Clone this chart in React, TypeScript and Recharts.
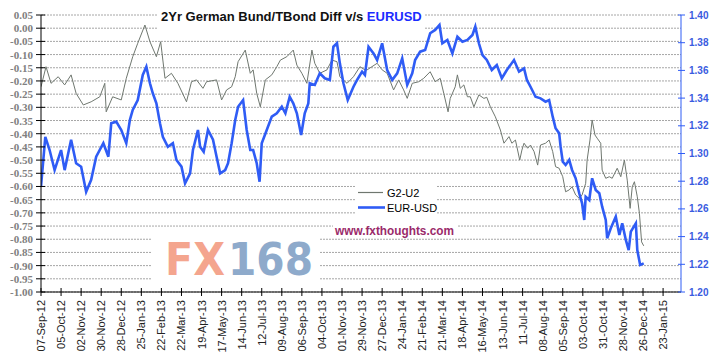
import React from 'react';
import { LineChart, Line, XAxis, YAxis, CartesianGrid } from 'recharts';

// x = days since 07-Sep-2012
const xTickLabels = ['07-Sep-12','05-Oct-12','02-Nov-12','30-Nov-12','28-Dec-12','25-Jan-13','22-Feb-13','22-Mar-13','19-Apr-13','17-May-13','14-Jun-13','12-Jul-13','09-Aug-13','06-Sep-13','04-Oct-13','01-Nov-13','29-Nov-13','27-Dec-13','24-Jan-14','21-Feb-14','21-Mar-14','18-Apr-14','16-May-14','13-Jun-14','11-Jul-14','08-Aug-14','05-Sep-14','03-Oct-14','31-Oct-14','28-Nov-14','26-Dec-14','23-Jan-15'];
const xTickDays = xTickLabels.map((_, i) => i * 28);

const leftTicks = [0.05,0,-0.05,-0.1,-0.15,-0.2,-0.25,-0.3,-0.35,-0.4,-0.45,-0.5,-0.55,-0.6,-0.65,-0.7,-0.75,-0.8,-0.85,-0.9,-0.95,-1];
const rightTicks = [1.2,1.22,1.24,1.26,1.28,1.3,1.32,1.34,1.36,1.38,1.4];

const g2Series: [number, number][] = [[0,-0.222],[7,-0.146],[14,-0.209],[24,-0.184],[33,-0.215],[42,-0.177],[49,-0.247],[59,-0.291],[70,-0.279],[82,-0.26],[89,-0.209],[91,-0.317],[100,-0.26],[112,-0.272],[119,-0.19],[128,-0.108],[135,-0.057],[145,0.012],[152,-0.051],[161,-0.108],[167,-0.051],[173,-0.19],[182,-0.171],[191,-0.209],[203,-0.279],[210,-0.203],[217,-0.196],[226,-0.228],[231,-0.203],[245,-0.196],[252,-0.272],[259,-0.234],[266,-0.222],[271,-0.184],[275,-0.127],[285,-0.083],[292,-0.171],[296,-0.158],[301,-0.247],[306,-0.298],[313,-0.196],[322,-0.177],[329,-0.146],[334,-0.121],[343,-0.108],[352,-0.083],[357,-0.14],[364,-0.171],[371,-0.209],[378,-0.083],[382,-0.133],[389,-0.171],[399,-0.158],[406,-0.121],[413,-0.127],[417,-0.184],[427,-0.209],[436,-0.184],[445,-0.146],[452,-0.158],[455,-0.158],[469,-0.133],[476,-0.158],[483,-0.171],[492,-0.234],[499,-0.196],[506,-0.234],[511,-0.266],[518,-0.209],[527,-0.203],[534,-0.19],[543,-0.165],[550,-0.203],[557,-0.19],[562,-0.247],[568,-0.317],[571,-0.266],[578,-0.222],[581,-0.177],[585,-0.228],[590,-0.215],[595,-0.26],[599,-0.26],[604,-0.298],[611,-0.253],[618,-0.266],[622,-0.262],[627,-0.298],[634,-0.336],[641,-0.386],[646,-0.436],[653,-0.411],[657,-0.436],[662,-0.424],[668,-0.5],[671,-0.462],[674,-0.436],[679,-0.455],[683,-0.443],[688,-0.468],[693,-0.519],[697,-0.443],[704,-0.436],[709,-0.424],[714,-0.468],[718,-0.525],[723,-0.531],[728,-0.563],[732,-0.62],[737,-0.613],[741,-0.601],[746,-0.632],[751,-0.645],[755,-0.632],[760,-0.588],[762,-0.5],[766,-0.424],[769,-0.348],[773,-0.405],[776,-0.417],[781,-0.436],[783,-0.538],[788,-0.569],[793,-0.563],[797,-0.569],[804,-0.531],[809,-0.563],[814,-0.5],[818,-0.576],[822,-0.683],[825,-0.601],[828,-0.582],[832,-0.639],[835,-0.702],[838,-0.81],[841,-0.825]];

const eurSeries: [number, number][] = [[0,1.276],[6,1.312],[12,1.3025],[19,1.288],[28,1.3025],[33,1.288],[42,1.31],[49,1.293],[56,1.2905],[63,1.2724],[70,1.281],[77,1.2977],[87,1.3074],[94,1.2977],[98,1.3218],[105,1.323],[112,1.317],[119,1.3074],[124,1.3242],[128,1.3314],[135,1.3386],[142,1.3567],[147,1.3627],[152,1.3507],[156,1.3435],[161,1.3362],[166,1.3218],[170,1.3121],[177,1.3049],[184,1.3074],[189,1.2953],[196,1.2905],[201,1.2785],[208,1.2857],[212,1.3025],[219,1.317],[222,1.3049],[227,1.3013],[233,1.317],[240,1.31],[245,1.2977],[250,1.2857],[257,1.288],[261,1.293],[266,1.3074],[271,1.3242],[275,1.3338],[282,1.3386],[287,1.317],[292,1.3025],[296,1.3025],[301,1.293],[305,1.2796],[308,1.3074],[315,1.317],[322,1.3266],[329,1.329],[336,1.3338],[341,1.329],[347,1.341],[352,1.3362],[357,1.329],[363,1.3134],[368,1.329],[373,1.3362],[375,1.3507],[382,1.3495],[389,1.3579],[396,1.3543],[403,1.3531],[408,1.3771],[413,1.3796],[417,1.3651],[422,1.3507],[428,1.3386],[436,1.3482],[441,1.3531],[448,1.3591],[452,1.3567],[457,1.3771],[464,1.3723],[469,1.3675],[476,1.3796],[483,1.3603],[490,1.3531],[497,1.3579],[504,1.3687],[511,1.3495],[518,1.3579],[522,1.3675],[529,1.3735],[536,1.3747],[543,1.3868],[550,1.3892],[556,1.3928],[560,1.3796],[567,1.382],[574,1.3723],[581,1.3843],[588,1.3807],[595,1.382],[602,1.3856],[606,1.3916],[611,1.3796],[616,1.3711],[622,1.3675],[629,1.3603],[636,1.3639],[643,1.3543],[650,1.3603],[660,1.3675],[667,1.3591],[674,1.3615],[678,1.3531],[683,1.3482],[690,1.341],[697,1.3398],[704,1.3374],[709,1.3386],[714,1.3266],[718,1.3182],[723,1.3146],[725,1.3049],[728,1.2941],[732,1.2917],[737,1.2953],[741,1.2881],[746,1.2821],[751,1.2713],[755,1.264],[758,1.252],[760,1.2688],[765,1.2664],[769,1.2821],[774,1.2737],[779,1.2713],[783,1.2616],[788,1.252],[790,1.2388],[795,1.246],[802,1.2544],[807,1.2412],[811,1.2496],[816,1.2376],[820,1.2303],[823,1.2436],[830,1.2496],[832,1.2303],[836,1.2195],[841,1.2207]];

const g2Data = g2Series.map(([d, v]) => ({ d, v }));
const eurData = eurSeries.map(([d, v]) => ({ d, v }));

const BLUE = '#2f5cf5';
const GRAY = '#6f776f';

const LeftTick = (props: any) => {
  const { x, y, payload } = props;
  return (
    <g>
      <line x1={x - 5} x2={x + 4} y1={y} y2={y} stroke="#000" />
      <text x={x - 8} y={y} textAnchor="end" dominantBaseline="central" fontFamily="'Liberation Serif', serif" fontWeight="bold" fontSize={11} fill="#808080">
        {Number(payload.value).toFixed(2)}
      </text>
    </g>
  );
};

const RightTick = (props: any) => {
  const { x, y, payload } = props;
  return (
    <g>
      <line x1={x - 3} x2={x + 4} y1={y} y2={y} stroke={BLUE} />
      <text x={x + 8} y={y} textAnchor="start" dominantBaseline="central" fontFamily="'Liberation Sans', Arial, sans-serif" fontWeight="bold" fontSize={10} fill="#3a5be0">
        {Number(payload.value).toFixed(2)}
      </text>
    </g>
  );
};

const BottomTick = (props: any) => {
  const { x, y, payload } = props;
  const idx = Math.round(Number(payload.value) / 28);
  const ty = y + 8;
  return (
    <g>
      <line x1={x} x2={x} y1={y - 4} y2={y + 4} stroke="#000" />
      <text x={x} y={ty} transform={`rotate(-90 ${x} ${ty})`} textAnchor="end" dominantBaseline="central" fontFamily="'Liberation Sans', Arial, sans-serif" fontSize={11} fill="#222">
        {xTickLabels[idx]}
      </text>
    </g>
  );
};

export default function App() {
  const sans = "'Liberation Sans', Arial, sans-serif";
  return (
    <div style={{ position: 'absolute', left: 0, top: 0, width: 717, height: 358, background: '#fff' }}>
      <LineChart width={717} height={358} margin={{ top: 15, right: 0, bottom: 0, left: 0 }}>
        <CartesianGrid yAxisId="left" vertical={false} horizontal stroke="#a6a6a6" strokeDasharray="2 1" />
        <XAxis dataKey="d" type="number" domain={[0, 893]} ticks={xTickDays} interval={0} height={66}
          tickSize={0} tickMargin={0} tickLine={false} axisLine={{ stroke: '#000' }} tick={<BottomTick />} allowDataOverflow />
        <YAxis yAxisId="left" orientation="left" type="number" domain={[-1, 0.05]} ticks={leftTicks} interval={0} width={41}
          tickSize={0} tickMargin={0} tickLine={false} axisLine={{ stroke: '#000' }} tick={<LeftTick />} allowDataOverflow />
        <YAxis yAxisId="right" orientation="right" type="number" domain={[1.2, 1.4]} ticks={rightTicks} interval={0} width={36}
          tickSize={0} tickMargin={0} tickLine={false} axisLine={{ stroke: BLUE }} tick={<RightTick />} allowDataOverflow />
        <Line yAxisId="left" data={g2Data} dataKey="v" type="linear" stroke={GRAY} strokeWidth={1} dot={false} isAnimationActive={false} />
        <Line yAxisId="right" data={eurData} dataKey="v" type="linear" stroke={BLUE} strokeWidth={2.6} dot={false} isAnimationActive={false} />
      </LineChart>
      <svg width={717} height={358} style={{ position: 'absolute', left: 0, top: 0, pointerEvents: 'none' }}>
        <rect x={157} y={4} width={268} height={30} fill="#fff" />
        <text x={161} y={21} fontFamily={sans} fontWeight="bold" fontSize={13} fill="#111">
          2Yr German Bund/TBond Diff v/s <tspan fill="#1a2cff">EURUSD</tspan>
        </text>
        <rect x={355} y={180} width={82} height={37} fill="#fff" />
        <line x1={358} x2={383} y1={192.5} y2={192.5} stroke={GRAY} strokeWidth={1.2} />
        <text x={387} y={192.5} dominantBaseline="central" fontFamily={sans} fontSize={11} fill="#000">G2-U2</text>
        <line x1={358} x2={385} y1={207.5} y2={207.5} stroke={BLUE} strokeWidth={2.6} />
        <text x={387} y={207.5} dominantBaseline="central" fontFamily={sans} fontSize={11} fill="#000">EUR-USD</text>
        <rect x={333} y={219} width={124} height={19} fill="#fff" />
        <text x={335} y={235} fontFamily={sans} fontWeight="bold" fontSize={12} fill="#9a2a6a" textLength={119} lengthAdjust="spacingAndGlyphs">www.fxthoughts.com</text>
        <rect x={152} y={231} width={168} height={56} fill="#fff" />
        <text x={165} y={275} fontFamily="'DejaVu Sans', sans-serif" fontWeight="bold" fontSize={44} fill="#f4a58e" textLength={60} lengthAdjust="spacingAndGlyphs">FX</text>
        <text x={228} y={275} fontFamily="'DejaVu Sans', sans-serif" fontWeight="bold" fontSize={44} fill="#8eaacb" textLength={85} lengthAdjust="spacingAndGlyphs">168</text>
      </svg>
    </div>
  );
}
